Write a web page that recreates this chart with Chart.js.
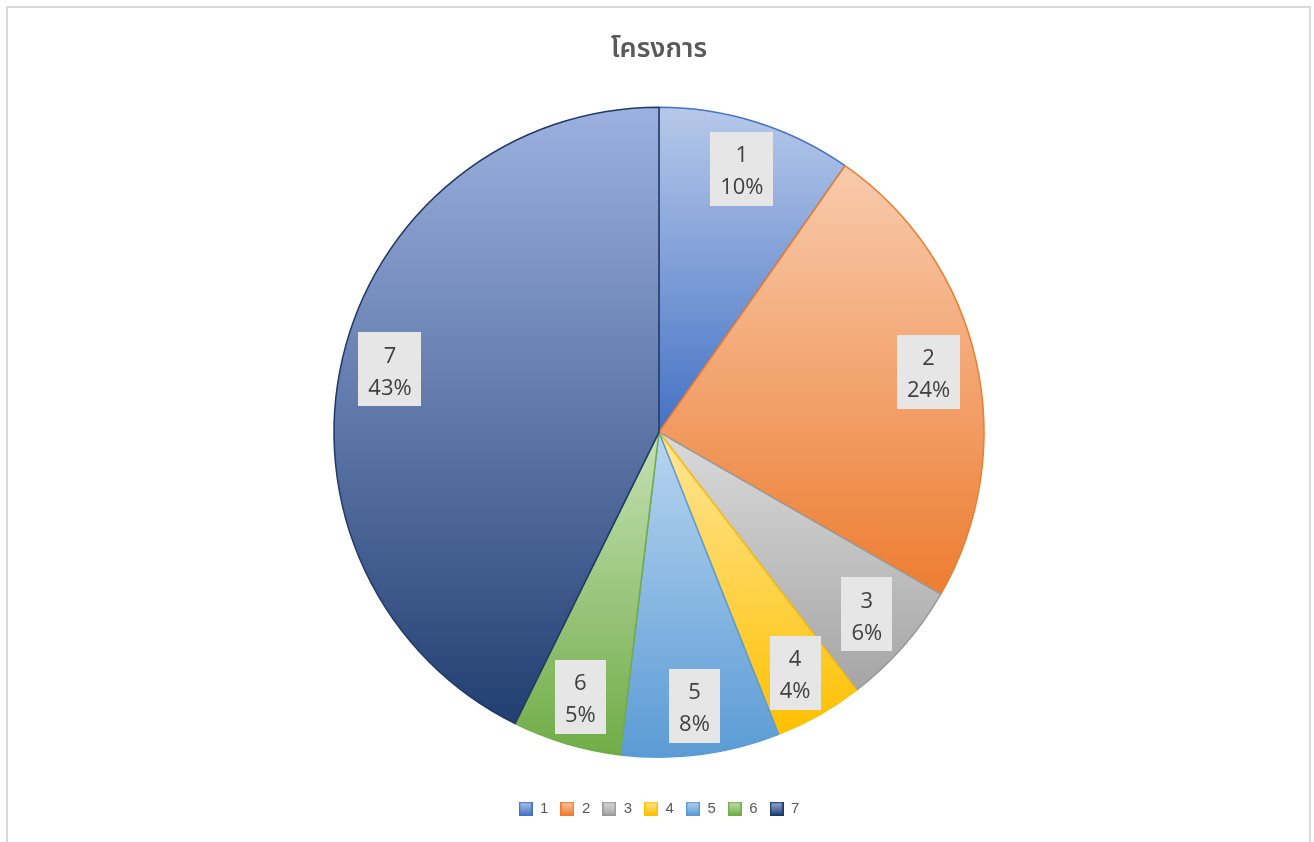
<!DOCTYPE html>
<html><head><meta charset="utf-8">
<script src="https://cdn.jsdelivr.net/npm/chart.js@4"></script>
<style>html,body{margin:0;padding:0;background:#fff;overflow:hidden}#wrap{width:1314px;height:842px;position:relative}canvas{display:block}</style>
</head><body><div id="wrap"><canvas id="c"></canvas></div>
<script>
const chartTitle = 'โครงการ';
const categories = ['1', '2', '3', '4', '5', '6', '7'];
const values = [9.7, 23.6, 6.3, 4.4, 7.9, 5.4, 42.7];
const topColors = ['#b7c9ea', '#f8cbad', '#dadada', '#ffe699', '#b8d5f0', '#c5e0b4', '#9cb1e0'];
const baseColors = ['#4472c4', '#ed7d31', '#a5a5a5', '#ffc000', '#5b9bd5', '#70ad47', '#223f72'];
const borderColors = ['#4472c4', '#ed7d31', '#999999', '#ffc000', '#5b9bd5', '#70ad47', '#1f3864'];

const total = values.reduce((a, b) => a + b, 0);
const percentLabels = values.map(v => Math.round(v / total * 100) + '%');

function sliceGradient(context) {
  const i = context.dataIndex;
  const chart = context.chart;
  const area = chart.chartArea;
  if (!area || i === undefined) return baseColors[i] || baseColors[0];
  const cx = (area.left + area.right) / 2, cy = (area.top + area.bottom) / 2;
  const r = 325;
  let start = -Math.PI / 2;
  for (let k = 0; k < i; k++) start += values[k] / total * 2 * Math.PI;
  const end = start + values[i] / total * 2 * Math.PI;
  const ys = [cy, cy + r * Math.sin(start), cy + r * Math.sin(end)];
  for (const a of [-Math.PI / 2, Math.PI / 2, 3 * Math.PI / 2]) {
    if (a >= start - 1e-9 && a <= end + 1e-9) ys.push(cy + r * Math.sin(a));
  }
  const y0 = Math.min(...ys), y1 = Math.max(...ys);
  const g = chart.ctx.createLinearGradient(0, y0, 0, y1);
  g.addColorStop(0, topColors[i]);
  g.addColorStop(1, baseColors[i]);
  return g;
}

function legendIcon(i) {
  const c = document.createElement('canvas');
  c.width = 14; c.height = 14;
  const x = c.getContext('2d');
  const g = x.createLinearGradient(0, 0, 0, 14);
  g.addColorStop(0, topColors[i]);
  g.addColorStop(1, baseColors[i]);
  x.fillStyle = g;
  x.fillRect(0, 0, 14, 14);
  x.strokeStyle = borderColors[i];
  x.lineWidth = 1.5;
  x.strokeRect(0.75, 0.75, 12.5, 12.5);
  return c;
}
const icons = categories.map((c, i) => legendIcon(i));

const frame = {
  id: 'frame',
  beforeDraw(chart) {
    const ctx = chart.ctx;
    ctx.save();
    ctx.strokeStyle = '#d9d9d9';
    ctx.lineWidth = 2;
    ctx.strokeRect(7, 7, 1303, 900);
    ctx.restore();
  }
};

const labelsPlugin = {
  id: 'sliceLabels',
  afterDatasetsDraw(chart) {
    const ctx = chart.ctx;
    const meta = chart.getDatasetMeta(0);
    ctx.save();
    ctx.font = '22px "Open Sans", "Liberation Sans", sans-serif';
    ctx.textAlign = 'center';
    ctx.textBaseline = 'middle';
    meta.data.forEach((arc, i) => {
      const p = arc.getProps(['x', 'y', 'startAngle', 'endAngle', 'outerRadius'], true);
      const mid = (p.startAngle + p.endAngle) / 2;
      const lx = p.x + Math.cos(mid) * p.outerRadius * 0.85;
      const ly = p.y + Math.sin(mid) * p.outerRadius * 0.85;
      const lines = [categories[i], percentLabels[i]];
      const w = Math.max(...lines.map(t => ctx.measureText(t).width)) + 20;
      const h = 74;
      ctx.fillStyle = '#e7e6e6';
      ctx.fillRect(Math.round(lx - w / 2), Math.round(ly - h / 2), Math.round(w), h);
      ctx.fillStyle = '#404040';
      ctx.fillText(lines[0], lx, ly - 13);
      ctx.fillText(lines[1], lx, ly + 19);
    });
    ctx.restore();
  }
};

new Chart(document.getElementById('c'), {
  type: 'pie',
  data: {
    labels: categories,
    datasets: [{
      data: values,
      backgroundColor: sliceGradient,
      borderColor: borderColors,
      borderWidth: 1.5,
      radius: 325
    }]
  },
  options: {
    responsive: true,
    maintainAspectRatio: false,
    animation: false,
    events: [],
    layout: { padding: { top: 20, bottom: 16, left: 4, right: 0 } },
    plugins: {
      tooltip: { enabled: false },
      title: {
        display: true,
        text: chartTitle,
        color: '#595959',
        font: { size: 27, family: '"Noto Sans Thai", "Leelawadee UI", Tahoma, "Noto Sans", "DejaVu Sans", sans-serif', weight: '600' },
        padding: { top: 15, bottom: 8 }
      },
      legend: {
        position: 'bottom',
        labels: {
          usePointStyle: true,
          boxWidth: 14,
          boxHeight: 14,
          padding: 12,
          color: '#595959',
          font: { size: 15, family: '"Liberation Sans", Arial, sans-serif' },
          generateLabels() {
            return categories.map((c, i) => ({
              text: c, pointStyle: icons[i], fillStyle: baseColors[i], strokeStyle: borderColors[i],
              lineWidth: 0, hidden: false, index: i, datasetIndex: 0, fontColor: '#595959'
            }));
          }
        }
      }
    }
  },
  plugins: [frame, labelsPlugin]
});
</script>
</body></html>
